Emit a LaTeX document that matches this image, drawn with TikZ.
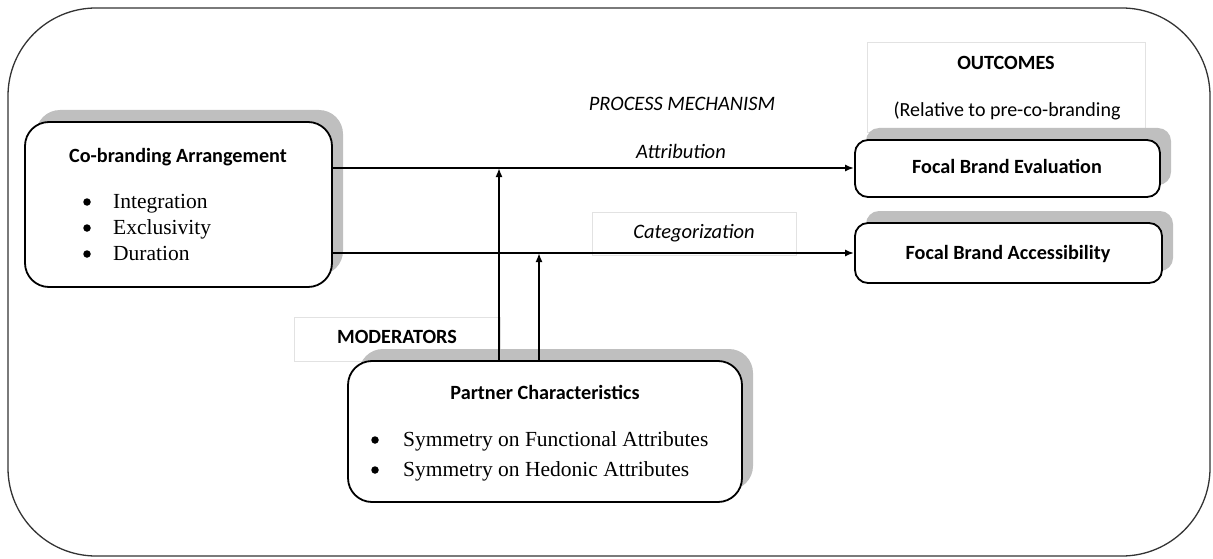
\documentclass[tikz,border=0pt]{standalone}
\usepackage{fontspec}
\setmainfont{Liberation Serif}
\newfontfamily\calfont{Carlito}
\usetikzlibrary{shadows,arrows.meta}
\definecolor{shadowgray}{HTML}{BFBFBF}
\definecolor{lightframe}{HTML}{E2E2E2}
\begin{document}
\begin{tikzpicture}[x=1pt,y=-1pt,
  box/.style={draw=black, line width=1.8pt, rounded corners=#1, fill=white, inner sep=0pt,
    drop shadow={shadow xshift=11pt, shadow yshift=12pt, fill=shadowgray, opacity=1}},
  box/.default=22pt,
  lbox/.style={draw=lightframe, line width=0.8pt, fill=white, inner sep=0pt},
  sanst/.style={font=\calfont\fontsize{20}{24}\selectfont, anchor=base, inner sep=0pt},
  sansb/.style={font=\calfont\bfseries\fontsize{20.2}{24}\selectfont, anchor=base, inner sep=0pt},
  sansi/.style={font=\calfont\itshape\fontsize{20.5}{24}\selectfont, anchor=base, inner sep=0pt},
  sertext/.style={font=\fontsize{21.5}{26}\selectfont, anchor=base west, inner sep=0pt},
  bul/.style={circle, fill=black, inner sep=0pt, minimum size=7.5pt},
  conn/.style={line width=1.8pt, -{Latex[length=9pt,width=7pt]}}
]
\useasboundingbox (0,0) rectangle (1213,559);
% outer frame
\draw[line width=1.3pt, draw=black!80, rounded corners=88pt] (8,8) rectangle (1210,556);

% light label boxes
\node[lbox, minimum width=278pt, minimum height=90pt] (outbox) at (1006,87) {};
\node[lbox, minimum width=206pt, minimum height=44pt] (modbox) at (397,339) {};
\node[lbox, minimum width=204pt, minimum height=43pt] (catbox) at (694,233.5) {};

% main boxes
\node[box=24pt, minimum width=307pt, minimum height=165pt] (cob) at (178.5,204.5) {};
\node[box=13pt, minimum width=305pt, minimum height=57pt] (eval) at (1007.5,168.5) {};
\node[box=13pt, minimum width=307pt, minimum height=60pt] (acc) at (1008.5,253) {};
\node[box=24pt, minimum width=394pt, minimum height=141pt] (part) at (545,431.5) {};

% texts
\node[sansb] (outt) at (1006,70) {OUTCOMES};
\node[sanst] (rel) at (1007,117) {(Relative to pre-co-branding};
\node[sansb] (modt) at (397,343) {MODERATORS};
\node[sansi] (proc) at (682,111) {PROCESS MECHANISM};
\node[sansi] (attr) at (681,158) {Attribution};
\node[sansi] (catt) at (694,238) {Categorization};

\node[sansb] (cobt) at (178,163) {Co-branding Arrangement};
\node[bul] (b1) at (87,202) {};
\node[bul] (b2) at (87,228) {};
\node[bul] (b3) at (87,254) {};
\node[sertext] (i1) at (113,208) {Integration};
\node[sertext] (i2) at (113,234) {Exclusivity};
\node[sertext] (i3) at (113,260) {Duration};

\node[sansb] (evt) at (1007,173) {Focal Brand Evaluation};
\node[sansb] (act) at (1008,259) {Focal Brand Accessibility};

\node[sansb] (partt) at (545,399) {Partner Characteristics};
\node[bul] (b4) at (375,440) {};
\node[bul] (b5) at (375,470) {};
\node[sertext] (s1) at (403,446) {Symmetry on Functional Attributes};
\node[sertext] (s2) at (403,476) {Symmetry on Hedonic Attributes};

% connectors
\coordinate (m1) at (499,168);
\coordinate (m2) at (539,253);
\draw[conn] (cob.east |- m1) -- (eval.west |- m1);
\draw[conn] (cob.east |- m2) -- (acc.west |- m2);
\draw[conn] (part.north -| m1) -- (m1);
\draw[conn] (part.north -| m2) -- (m2);
\end{tikzpicture}
\end{document}
